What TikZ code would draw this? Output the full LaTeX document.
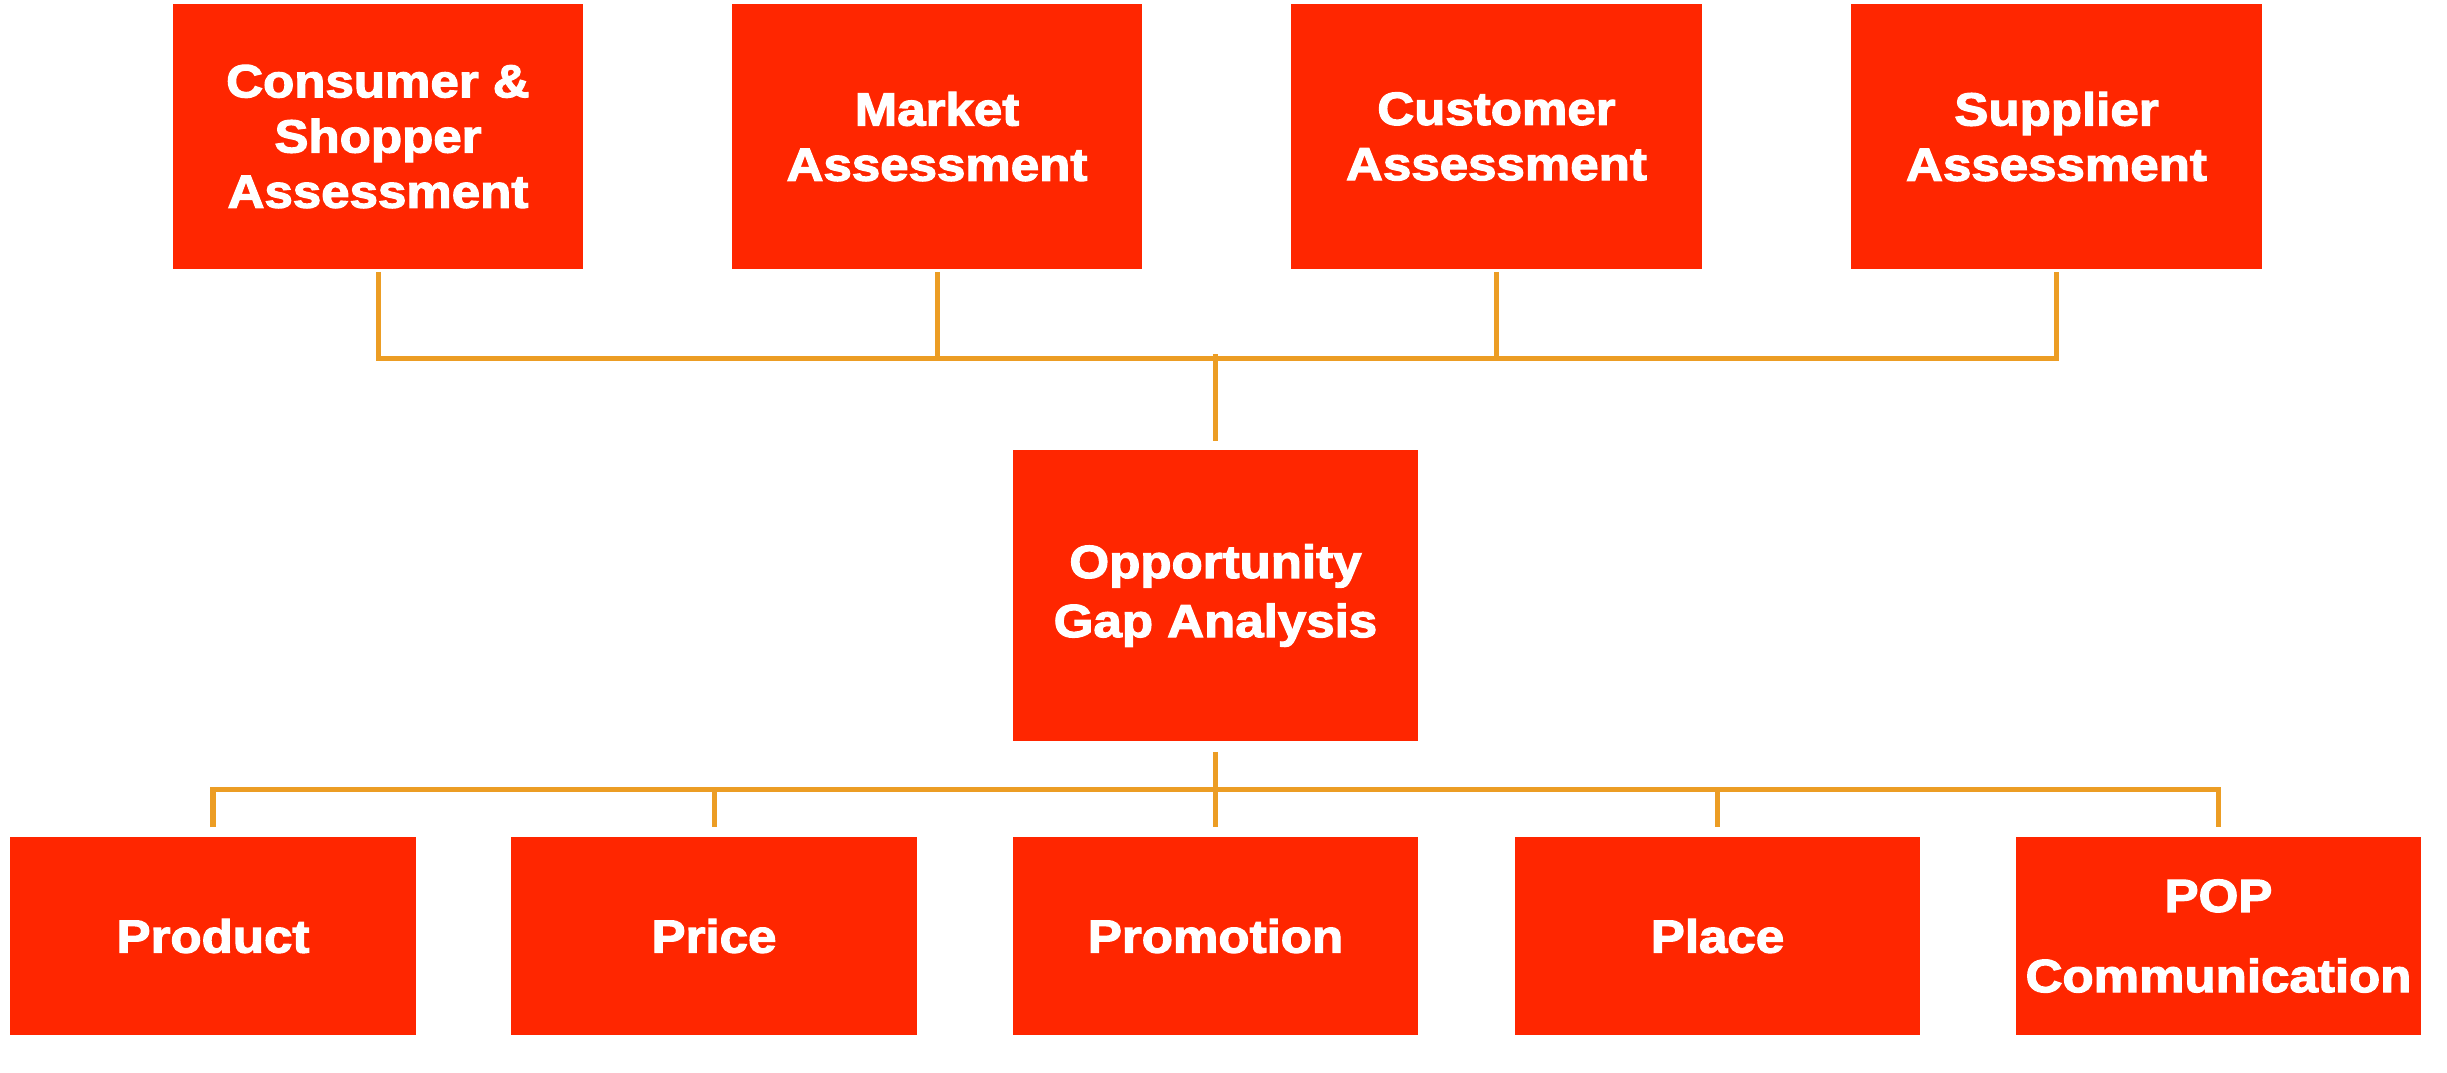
\documentclass[tikz,border=0pt]{standalone}
\usepackage{fontspec}
\newfontfamily\lblfont{Liberation Sans}[FakeStretch=1.1,FakeBold=2.6]
\definecolor{boxred}{RGB}{255,38,0}
\definecolor{linegold}{RGB}{236,157,36}
\begin{document}
\begin{tikzpicture}[x=0.01cm,y=0.01cm,
  box/.style={rectangle, fill=boxred, text=white, inner sep=0pt, align=center,
    font=\lblfont\bfseries\fontsize{13.2pt}{15.7pt}\selectfont},
  topbox/.style={box, minimum width=4.1cm, minimum height=2.65cm},
  midbox/.style={box, minimum width=4.05cm, minimum height=2.91cm,
    font=\lblfont\bfseries\fontsize{13.2pt}{16.8pt}\selectfont},
  botbox/.style={box, minimum width=4.05cm, minimum height=1.98cm},
  conn/.style={draw=linegold, line width=0.05cm}]
\useasboundingbox (0,0) rectangle (2447,-1072);
% top row
\node[topbox] (t1) at (378,-136.5) {Consumer \&\\Shopper\\Assessment};
\node[topbox] (t2) at (937,-136.5) {Market\\Assessment};
\node[topbox] (t3) at (1496.5,-136.5) {Customer\\Assessment};
\node[topbox] (t4) at (2056.5,-136.5) {Supplier\\Assessment};
% middle
\node[midbox] (m) at (1215.5,-595.5) {Opportunity\\Gap Analysis};
% bottom row
\node[botbox] (b1) at (213,-936) {Product};
\node[botbox] (b2) at (714,-936) {Price};
\node[botbox] (b3) at (1215.5,-936) {Promotion};
\node[botbox] (b4) at (1717.5,-936) {Place};
\node[botbox, font=\lblfont\bfseries\fontsize{13.2pt}{22.8pt}\selectfont] (b5) at (2218.5,-936) {POP\\Communication};
% buses
\coordinate (tbus) at (1215.5,-358);
\coordinate (bbus) at (1215.5,-789);
% top connectors
\draw[conn] ([yshift=-0.02cm]t1.south) -- (t1.south |- tbus) -- (t4.south |- tbus) -- ([yshift=-0.02cm]t4.south);
\draw[conn] ([yshift=-0.02cm]t2.south) -- (t2.south |- tbus);
\draw[conn] ([yshift=-0.02cm]t3.south) -- (t3.south |- tbus);
\draw[conn] ([yshift=0.04cm]tbus) -- ([yshift=0.08cm]m.north);
% bottom connectors
\draw[conn] ([yshift=-0.1cm]m.south) -- ([yshift=0.09cm]b3.north);
\draw[conn] ([yshift=0.09cm]b1.north) -- (b1.north |- bbus) -- (b5.north |- bbus) -- ([yshift=0.09cm]b5.north);
\draw[conn] (b2.north |- bbus) -- ([yshift=0.09cm]b2.north);
\draw[conn] (b4.north |- bbus) -- ([yshift=0.09cm]b4.north);
\end{tikzpicture}
\end{document}
